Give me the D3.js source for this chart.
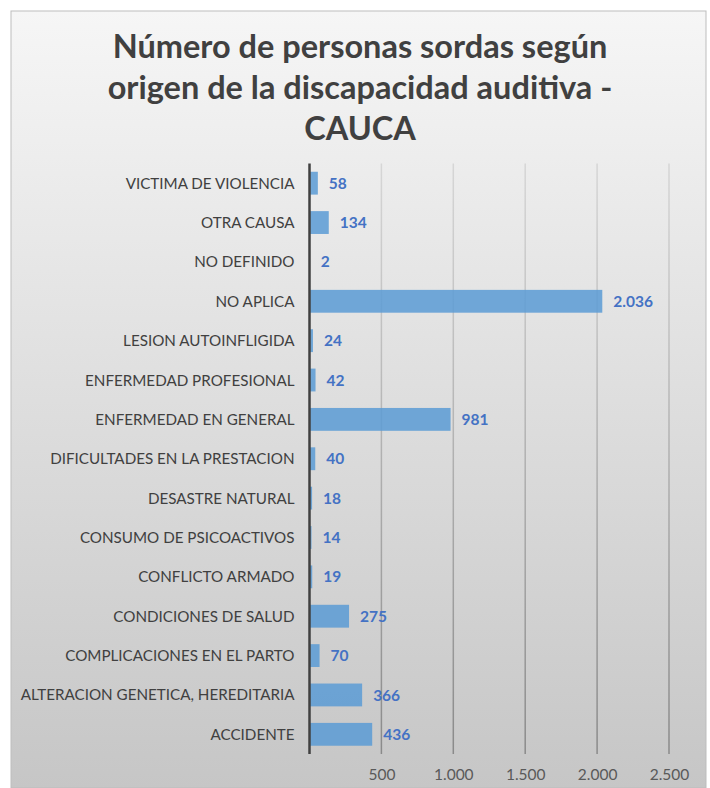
<!DOCTYPE html>
<html><head><meta charset="utf-8">
<script src="https://cdn.jsdelivr.net/npm/d3@7"></script>
<style>html,body{margin:0;padding:0;background:#fff;}svg{display:block;}</style>
</head><body>
<script>
const categories = ["VICTIMA DE VIOLENCIA","OTRA CAUSA","NO DEFINIDO","NO APLICA","LESION AUTOINFLIGIDA","ENFERMEDAD PROFESIONAL","ENFERMEDAD EN GENERAL","DIFICULTADES EN LA PRESTACION","DESASTRE NATURAL","CONSUMO DE PSICOACTIVOS","CONFLICTO ARMADO","CONDICIONES DE SALUD","COMPLICACIONES EN EL PARTO","ALTERACION GENETICA, HEREDITARIA","ACCIDENTE"];
const values = [58,134,2,2036,24,42,981,40,18,14,19,275,70,366,436];
const tickValues = [500,1000,1500,2000,2500];
const titleLines = ["Número de personas sordas según","origen de la discapacidad auditiva -","CAUCA"];

const W=710,H=788;
const svg=d3.select("body").append("svg").attr("width",W).attr("height",H);
const defs=svg.append("defs");
const bg=defs.append("linearGradient").attr("id","bg").attr("x1",0).attr("y1",0).attr("x2",0).attr("y2",1);
bg.append("stop").attr("offset","0%").attr("stop-color","#f6f6f6");
bg.append("stop").attr("offset","100%").attr("stop-color","#c6c6c6");
const gg=defs.append("linearGradient").attr("id","gg").attr("gradientUnits","userSpaceOnUse").attr("x1",0).attr("y1",163).attr("x2",0).attr("y2",754);
gg.append("stop").attr("offset","0%").attr("stop-color","#d6d6d6");
gg.append("stop").attr("offset","100%").attr("stop-color","#8a8a8a");

svg.append("rect").attr("x",11).attr("y",11).attr("width",695).attr("height",H-11).attr("fill","url(#bg)").attr("stroke","#bdbdbd").attr("stroke-width",1);

const title=svg.append("text").attr("text-anchor","middle").attr("font-family","Lato, 'Open Sans', sans-serif").attr("font-weight","bold").attr("font-size",32.5).attr("fill","#404040");
titleLines.forEach((t,i)=>title.append("tspan").attr("x",360).attr("y",58+i*41).text(t));

const x=d3.scaleLinear().domain([0,2500]).range([309.5,669]);
const y=d3.scaleBand().domain(categories).range([163.5,754]).paddingInner(0.42).paddingOuter(0.21);
const loc=d3.formatLocale({decimal:",",thousands:".",grouping:[3],currency:["$",""]});
const fmt=loc.format(",d");

// gridlines
svg.append("g").selectAll("line").data(tickValues).join("line")
  .attr("x1",d=>x(d)).attr("x2",d=>x(d)).attr("y1",163.5).attr("y2",754)
  .attr("stroke","url(#gg)").attr("stroke-width",1.5);

// bars
svg.append("g").selectAll("rect").data(values).join("rect")
  .attr("x",x(0)).attr("y",(d,i)=>y(categories[i])).attr("width",d=>x(d)-x(0)).attr("height",y.bandwidth())
  .attr("fill","#5b9bd5").attr("fill-opacity",0.85);

// zero axis
svg.append("line").attr("x1",x(0)).attr("x2",x(0)).attr("y1",163.5).attr("y2",754).attr("stroke","#404040").attr("stroke-width",2.5);

// value labels
svg.append("g").selectAll("text").data(values).join("text")
  .attr("x",d=>x(d)+11).attr("y",(d,i)=>y(categories[i])+y.bandwidth()/2).attr("dy","0.36em")
  .attr("font-family","Lato, 'Open Sans', sans-serif").attr("font-weight","bold").attr("font-size",15.5).attr("fill","#4472c4")
  .text(d=>fmt(d));

// category labels
const ax=d3.axisLeft(y).tickSize(0).tickPadding(15);
const gy=svg.append("g").attr("transform",`translate(${x(0)},0)`).call(ax);
gy.select(".domain").remove();
gy.selectAll("text").attr("font-family","Lato, 'Open Sans', sans-serif").attr("font-size",15.2).attr("fill","#404040").attr("dy","0.36em");

// x axis tick labels
const axb=d3.axisBottom(x).tickValues(tickValues).tickFormat(fmt).tickSize(0).tickPadding(15);
const gx=svg.append("g").attr("transform","translate(0,754)").call(axb);
gx.select(".domain").remove();
gx.selectAll("text").attr("font-family","Lato, 'Open Sans', sans-serif").attr("font-size",15.5).attr("fill","#595959");
</script>
</body></html>
